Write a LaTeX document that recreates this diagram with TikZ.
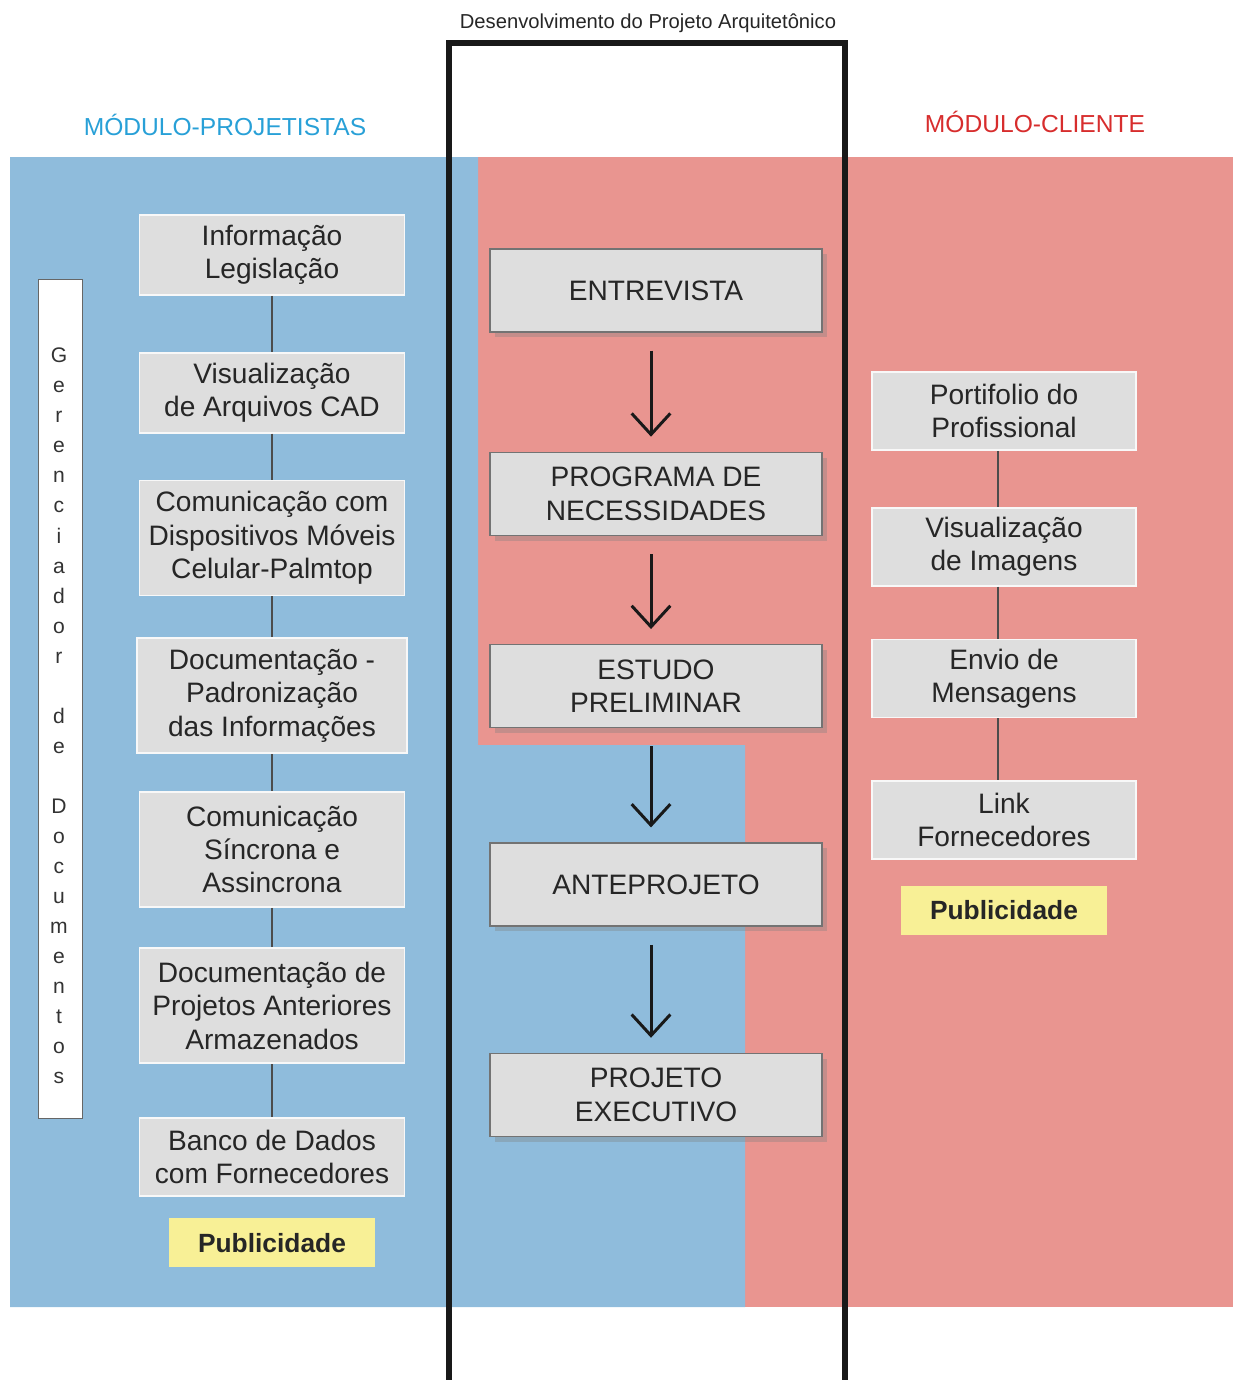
\documentclass[tikz,border=0pt]{standalone}
\usepackage{fontspec}
\setmainfont{Liberation Sans}
\usepackage{tikz}
\usetikzlibrary{positioning,shadows,arrows.meta}
\definecolor{bluezone}{RGB}{143,188,220}
\definecolor{pinkzone}{RGB}{233,149,144}
\definecolor{boxgray}{RGB}{222,222,222}
\definecolor{pubyellow}{RGB}{248,240,150}
\definecolor{titleblue}{RGB}{40,160,215}
\definecolor{titlered}{RGB}{215,45,45}

\begin{document}
\begin{tikzpicture}[
    x=0.02cm, y=-0.02cm,
    node distance=1cm,
    tool/.style={rectangle, draw=white!80!boxgray, line width=1pt, fill=boxgray, minimum width=5.3cm, minimum height=1.6cm, align=center, inner sep=2pt, font=\fontsize{16}{19}\selectfont, text=black!85},
    tall/.style={tool, minimum height=2.3cm},
    phase/.style={rectangle, draw=black!55, line width=0.8pt, fill=boxgray, minimum width=6.64cm, minimum height=1.66cm, align=center, font=\fontsize{16}{19}\selectfont, text=black!85, drop shadow={shadow xshift=3pt, shadow yshift=-3pt, opacity=0.35}},
    pub/.style={rectangle, fill=pubyellow, minimum width=4.14cm, minimum height=0.98cm, font=\fontsize{15}{18}\selectfont\bfseries, text=black!85},
    link/.style={draw=black!70, line width=0.8pt},
    arrow/.style={-{Straight Barb[length=12pt,width=22pt]}, line width=1.7pt, black!90, shorten <=0.36cm, shorten >=0.3cm},
    module/.style={font=\fontsize{14}{17}\selectfont}
]
\useasboundingbox (0,0) rectangle (1233,1380);

% zones
\fill[pinkzone] (478,157) rectangle (1233,1307);
\fill[bluezone] (10,157) -- (478,157) -- (478,745) -- (745,745) -- (745,1307) -- (10,1307) -- cycle;

% frame of the project development
\draw[line width=0.12cm, black!90] (449,1380) -- (449,43) -- (845,43) -- (845,1380);
\node (devtitle) at (648,23) {\fontsize{11.5}{14}\selectfont\color{black!85}Desenvolvimento do Projeto Arquitetônico};

\node[module, text=titleblue] (modproj) at (225,125) {MÓDULO-PROJETISTAS};
\node[module, text=titlered] (modclient) at (1035,122) {MÓDULO-CLIENTE};

% designers module
\node[tool] (info) at (272,255) {Informação\\Legislação};
\node[tool, below=1.12cm of info] (cad) {Visualização\\de Arquivos CAD};
\node[tall, below=0.92cm of cad] (mobile) {Comunicação com\\Dispositivos Móveis\\Celular-Palmtop};
\node[tall, minimum width=5.4cm, below=0.82cm of mobile] (padron) {Documentação -\\Padronização\\das Informações};
\node[tall, below=0.74cm of padron] (sync) {Comunicação\\Síncrona e\\Assincrona};
\node[tall, below=0.79cm of sync] (previous) {Documentação de\\Projetos Anteriores\\Armazenados};
\node[tool, minimum height=1.56cm, below=1.06cm of previous] (suppliers) {Banco de Dados\\com Fornecedores};
\node[pub, below=0.42cm of suppliers] (publeft) {Publicidade};

\draw[link] (info) -- (cad);
\draw[link] (cad) -- (mobile);
\draw[link] (mobile) -- (padron);
\draw[link] (padron) -- (sync);
\draw[link] (sync) -- (previous);
\draw[link] (previous) -- (suppliers);

\node[rectangle, draw=black!60, fill=white, minimum width=0.88cm, minimum height=16.78cm] (docbox) at (60,698.5) {};
\node[align=center, inner sep=0pt, font=\fontsize{12}{17.1}\selectfont, text=black!80] (docletters) at (59,716)
  {G\\e\\r\\e\\n\\c\\i\\a\\d\\o\\r\\~\\d\\e\\~\\D\\o\\c\\u\\m\\e\\n\\t\\o\\s};

% project phases
\node[phase] (interview) at (656,290.5) {ENTREVISTA};
\node[phase, below=2.38cm of interview] (program) {PROGRAMA DE\\NECESSIDADES};
\node[phase, below=2.16cm of program] (prelim) {ESTUDO\\PRELIMINAR};
\node[phase, below=2.28cm of prelim] (preproject) {ANTEPROJETO};
\node[phase, below=2.52cm of preproject] (executive) {PROJETO\\EXECUTIVO};

\draw[arrow] ([xshift=-0.1cm]interview.south) -- ([xshift=-0.1cm]program.north);
\draw[arrow] ([xshift=-0.1cm]program.south) -- ([xshift=-0.1cm]prelim.north);
\draw[arrow] ([xshift=-0.1cm]prelim.south) -- ([xshift=-0.1cm]preproject.north);
\draw[arrow] ([xshift=-0.1cm]preproject.south) -- ([xshift=-0.1cm]executive.north);

% client module
\node[tool, minimum width=5.28cm, minimum height=1.56cm] (portfolio) at (1004,411) {Portifolio do\\Profissional};
\node[tool, minimum width=5.28cm, minimum height=1.56cm, below=1.12cm of portfolio] (images) {Visualização\\de Imagens};
\node[tool, minimum width=5.28cm, minimum height=1.56cm, below=1.04cm of images] (messages) {Envio de\\Mensagens};
\node[tool, minimum width=5.28cm, minimum height=1.56cm, below=1.23cm of messages] (links) {Link\\Fornecedores};
\node[pub, below=0.52cm of links] (pubright) {Publicidade};

\draw[link] ([xshift=-0.12cm]portfolio.south) -- ([xshift=-0.12cm]images.north);
\draw[link] ([xshift=-0.12cm]images.south) -- ([xshift=-0.12cm]messages.north);
\draw[link] ([xshift=-0.12cm]messages.south) -- ([xshift=-0.12cm]links.north);

\end{tikzpicture}
\end{document}
